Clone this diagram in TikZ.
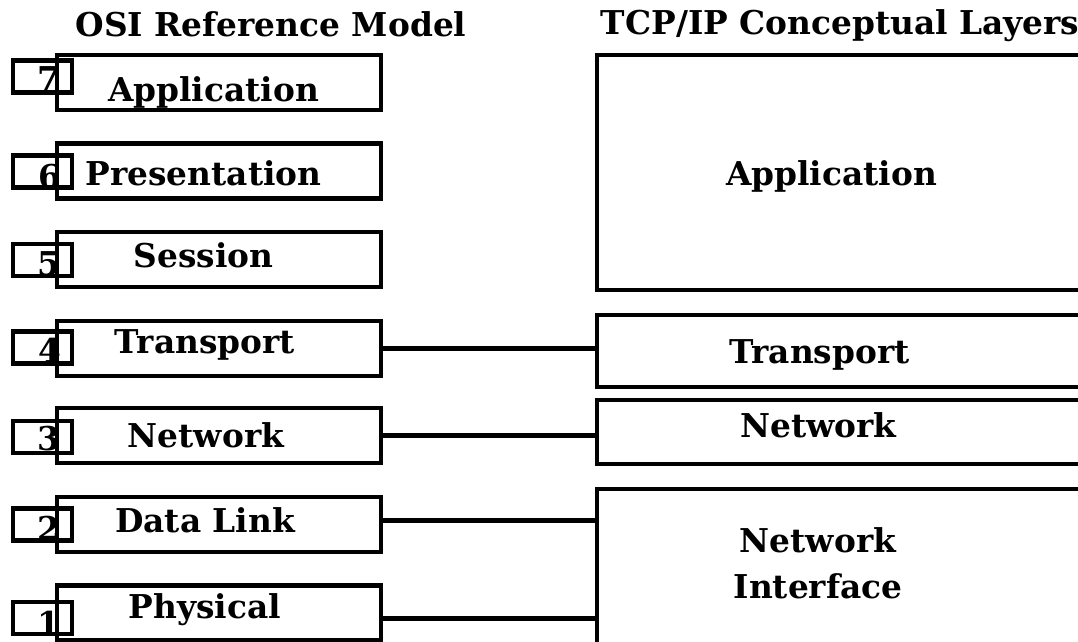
\documentclass[tikz,border=0pt]{standalone}
\usepackage{fontspec}
\setmainfont{DejaVu Serif}
\begin{document}
\begin{tikzpicture}[x=0.75pt,y=-0.75pt,
  layerbox/.style={draw,line width=3.3pt,inner sep=0pt,rectangle},
  numbox/.style={draw,line width=3.3pt,inner sep=0pt,minimum width=44.25pt,minimum height=24pt},
  txt/.style={inner sep=0pt,font=\bfseries\fontsize{24.6}{28}\selectfont},
  link/.style={line width=3.9pt}]
\useasboundingbox (0,0) rectangle (1078,642);
\clip (0,0) rectangle (1078,642);

% column headings
\node[txt,anchor=base] (hosi) at (271,37) {OSI Reference Model};
\node[txt,anchor=base] (htcp) at (840,35) {TCP/IP Conceptual Layers};

% OSI layers (324 x 55 px)
\foreach \n/\yc in {7/82.5,6/171,5/259.5,4/348.5,3/435.5,2/524.5,1/613}
  \node[layerbox,minimum width=243pt,minimum height=41.25pt] (o\n) at (219,\yc) {};

% layer number tabs
\node[numbox] (n7) at (42.5,76.5) {};
\node[numbox] (n6) at (42.5,171.5) {};
\node[numbox] (n5) at (42.5,260) {};
\node[numbox] (n4) at (42.5,347.5) {};
\node[numbox] (n3) at (42.5,437) {};
\node[numbox] (n2) at (42.5,524.5) {};
\node[numbox] (n1) at (42.5,618) {};

\node[txt,anchor=base east] (d7) at (61,90) {7};
\node[txt,anchor=base east] (d6) at (62,188) {6};
\node[txt,anchor=base east] (d5) at (61,275) {5};
\node[txt,anchor=base east] (d4) at (62,362) {4};
\node[txt,anchor=base east] (d3) at (61,450) {3};
\node[txt,anchor=base east] (d2) at (61,540) {2};
\node[txt,anchor=base east] (d1) at (61,635) {1};

% OSI layer names
\node[txt,anchor=base] (l7) at (213.5,102) {Application};
\node[txt,anchor=base] (l6) at (203.5,185) {Presentation};
\node[txt,anchor=base] (l5) at (203.5,267) {Session};
\node[txt,anchor=base] (l4) at (205,353) {Transport};
\node[txt,anchor=base] (l3) at (206,447) {Network};
\node[txt,anchor=base] (l2) at (205,532) {Data Link};
\node[txt,anchor=base] (l1) at (205,618) {Physical};

% TCP/IP layers
\node[layerbox,minimum width=362.25pt,minimum height=176.25pt] (ra) at (838.5,172.5) {};
\node[layerbox,minimum width=362.25pt,minimum height=54pt] (rt) at (838.5,351) {};
\node[layerbox,minimum width=362.25pt,minimum height=48pt] (rn) at (838.5,432) {};
\node[layerbox,minimum width=362.25pt,minimum height=121.5pt] (ri) at (838.5,570) {};

\node[txt,anchor=base] (ta) at (831.5,185) {Application};
\node[txt,anchor=base] (tt) at (819.5,363) {Transport};
\node[txt,anchor=base] (tn) at (818.5,437) {Network};
\node[txt,anchor=base] (ti1) at (818,552) {Network};
\node[txt,anchor=base] (ti2) at (818,598) {Interface};

% correspondences
\draw[link] (o4.east) -- (o4.east -| rt.west);
\draw[link] (o3.east) -- (o3.east -| rn.west);
\draw[link] ([yshift=3pt]o2.east) -- ([yshift=3pt]o2.east -| ri.west);
\draw[link] ([yshift=-4pt]o1.east) -- ([yshift=-4pt]o1.east -| ri.west);
\end{tikzpicture}
\end{document}
